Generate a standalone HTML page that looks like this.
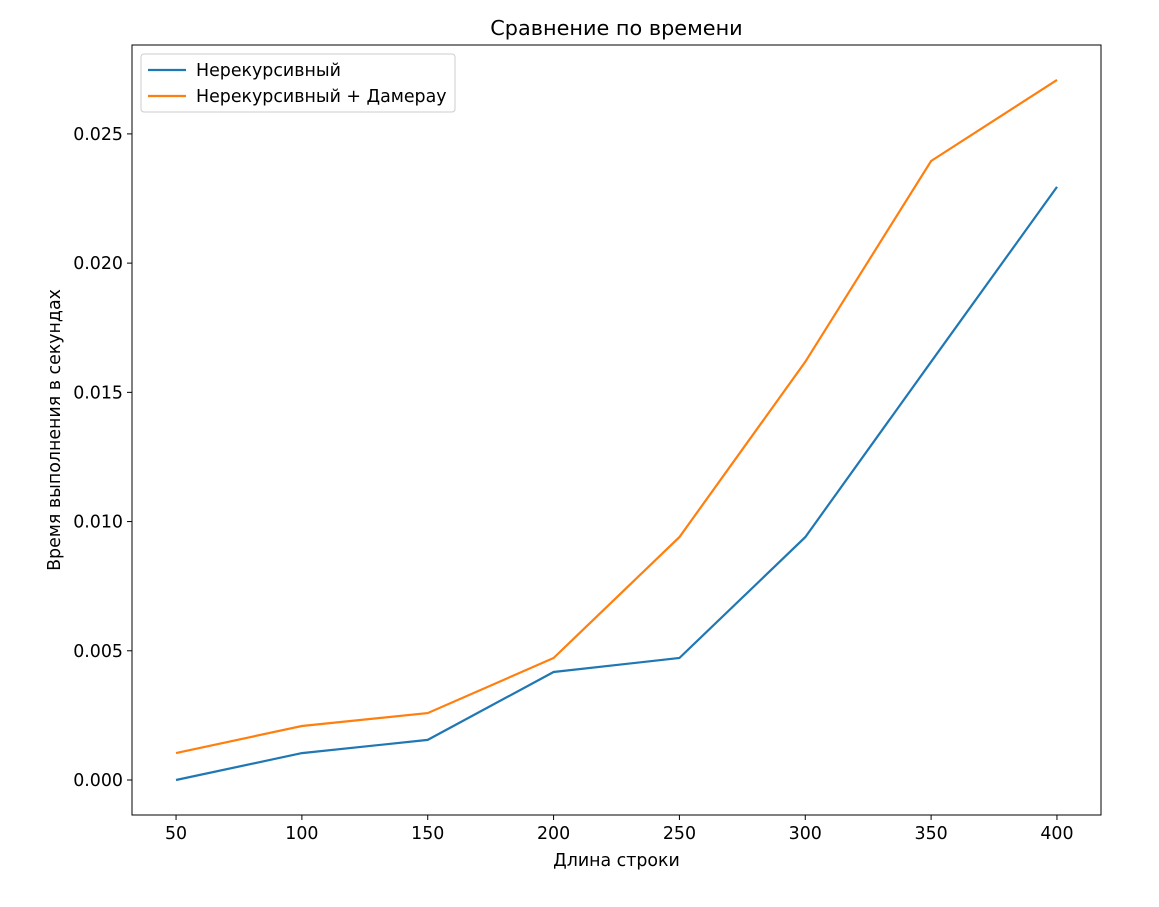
<!DOCTYPE html>
<html><head><meta charset="utf-8"><style>
body{margin:0;background:#fff;}
svg text{font-family:"DejaVu Sans","Liberation Sans",sans-serif;fill:#000;}
</style></head><body>
<svg id="chart" width="1159" height="902"></svg>
<script>
const categories=[50,100,150,200,250,300,350,400];
const seriesNonRec=[0,0.00104,0.00155,0.00418,0.00472,0.0094,0.01618,0.02295];
const seriesDamerau=[0.00104,0.00209,0.00259,0.00472,0.0094,0.01618,0.02395,0.02709];
const xTicks=[50,100,150,200,250,300,350,400];
const yTicks=[0,0.005,0.01,0.015,0.02,0.025];
const yTickLabels=["0.000","0.005","0.010","0.015","0.020","0.025"];
const seriesNames=["Нерекурсивный","Нерекурсивный + Дамерау"];

const L=132,R=1101,T=45,B=815;
const xMin=32.5,xMax=417.5,yMin=-0.001354,yMax=0.02844;
const sx=v=>L+(v-xMin)/(xMax-xMin)*(R-L);
const sy=v=>B-(v-yMin)/(yMax-yMin)*(B-T);
const NS="http://www.w3.org/2000/svg";
const svg=document.getElementById('chart');
function mk(tag,attrs,parent){const e=document.createElementNS(NS,tag);for(const k in attrs)e.setAttribute(k,attrs[k]);(parent||svg).appendChild(e);return e;}
const FS=17.4;

const title=mk('text',{x:(L+R)/2,y:35,'text-anchor':'middle','font-size':20.8});
title.textContent='Сравнение по времени';



xTicks.forEach(t=>{
  const tk=mk('line',{x1:sx(t),x2:sx(t),y1:B,y2:B+5,stroke:'#000','stroke-width':1});
  
  
  const lb=mk('text',{x:sx(t),y:B+24,'text-anchor':'middle','font-size':FS});
  lb.textContent=t;
  
  
});
yTicks.forEach((t,i)=>{
  const tk=mk('line',{x1:L-5,x2:L,y1:sy(t),y2:sy(t),stroke:'#000','stroke-width':1});
  
  
  const lb=mk('text',{x:L-9,y:sy(t)+6,'text-anchor':'end','font-size':FS});
  lb.textContent=yTickLabels[i];
  
  
});

const xt=mk('text',{x:(L+R)/2,y:866,'text-anchor':'middle','font-size':FS});
xt.textContent='Длина строки';


const yt=mk('text',{x:0,y:0,'text-anchor':'middle','font-size':FS,transform:`translate(60,${(T+B)/2}) rotate(-90)`});
yt.textContent='Время выполнения в секундах';



const colors=['#1f77b4','#ff7f0e'];
[seriesNonRec,seriesDamerau].forEach((s,i)=>{
  const d=s.map((v,j)=>(j?'L':'M')+sx(categories[j]).toFixed(1)+','+sy(v).toFixed(1)).join(' ');
  const p=mk('path',{d:d,fill:'none',stroke:colors[i],'stroke-width':2.2});
  
  
});

const frame=mk('rect',{x:L,y:T,width:R-L,height:B-T,fill:'none',stroke:'#000','stroke-width':1});



const lg=mk('g',{});


mk('rect',{x:141,y:54,width:314,height:58,rx:3,fill:'#fff',stroke:'#ccc','stroke-width':1},lg);
seriesNames.forEach((n,i)=>{
  const y=70+i*26;
  const ln=mk('line',{x1:148,x2:186,y1:y,y2:y,stroke:colors[i],'stroke-width':2.2},lg);
  
  
  const tx=mk('text',{x:196,y:y+6,'font-size':FS},lg);
  tx.textContent=n;
  
  
});
</script>
</body></html>
